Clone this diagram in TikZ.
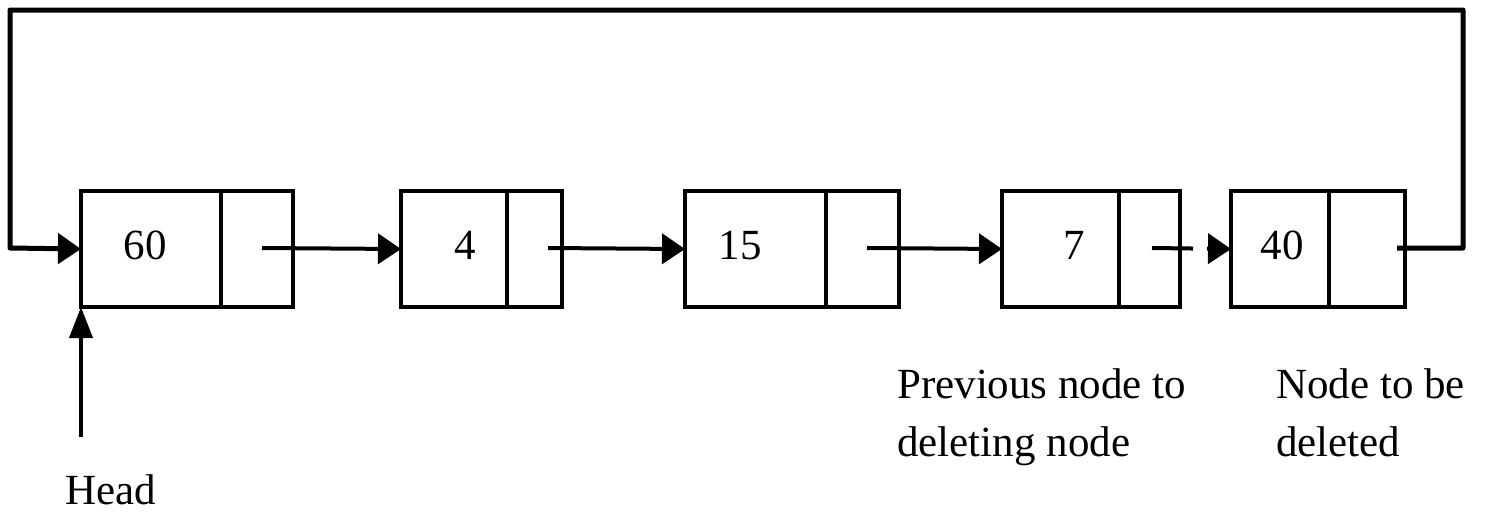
\documentclass[tikz,border=0pt]{standalone}
\usepackage{fontspec}
\setmainfont{Liberation Serif}
\usetikzlibrary{arrows.meta}
\begin{document}
\begin{tikzpicture}[x=1pt,y=-1pt,
  cell/.style={draw,line width=4pt,minimum height=116pt,inner sep=0pt,outer sep=0pt},
  num/.style={anchor=base,inner sep=0pt,font=\fontsize{43}{50}\selectfont},
  lbl/.style={anchor=base west,inner sep=0pt,align=left,font=\fontsize{43}{58}\selectfont},
  link/.style={line width=4pt,-{Triangle[length=23pt,width=30pt]}},
  loopline/.style={line width=5pt,line join=round,-{Triangle[length=23pt,width=30pt]}}]
\useasboundingbox (0,0) rectangle (1499,512);
% boxes
\node[cell,minimum width=140pt] (d1) at (151,249) {};
\node[cell,minimum width=72pt] (p1) at (257,249) {};
\node[cell,minimum width=106pt] (d2) at (454,249) {};
\node[cell,minimum width=55pt] (p2) at (534.5,249) {};
\node[cell,minimum width=141pt] (d3) at (755.5,249) {};
\node[cell,minimum width=73pt] (p3) at (862.5,249) {};
\node[cell,minimum width=117pt] (d4) at (1060.5,249) {};
\node[cell,minimum width=61pt] (p4) at (1149.5,249) {};
\node[cell,minimum width=98pt] (d5) at (1280,249) {};
\node[cell,minimum width=76pt] (p5) at (1367,249) {};
% values
\node[num] (v1) at (145,259) {60};
\node[num] (v2) at (465,259) {4};
\node[num] (v3) at (740,259) {15};
\node[num] (v4) at (1074,259) {7};
\node[num] (v5) at (1282,259) {40};
% pointer starts
\coordinate (s1) at (262,248);
\coordinate (s2) at (548,248);
\coordinate (s3) at (867,248);
\coordinate (s4) at (1152,248);
\coordinate (s5) at (1397,248);
\coordinate (h0) at (81,437);
% links
\draw[link] (s1) -- (d2.west);
\draw[link] (s2) -- (d3.west);
\draw[link] (s3) -- (d4.west);
\draw[link,dash pattern=on 41pt off 14pt on 200pt] (s4) -- (d5.west);
\draw[loopline] (s5) -- (1463,248) -- (1463,10) -- (10,10) -- (10,248) -- (d1.west);
\draw[line width=4pt,-{Triangle[length=31pt,width=23pt]}] (h0) -- (d1.south west);
% labels
\node[lbl] (head) at (65,504) {Head};
\node[lbl,anchor=north west] (prev) at (897,368) {Previous node to\\deleting node};
\node[lbl,anchor=north west] (del) at (1276,368) {Node to be\\deleted};
\end{tikzpicture}
\end{document}
